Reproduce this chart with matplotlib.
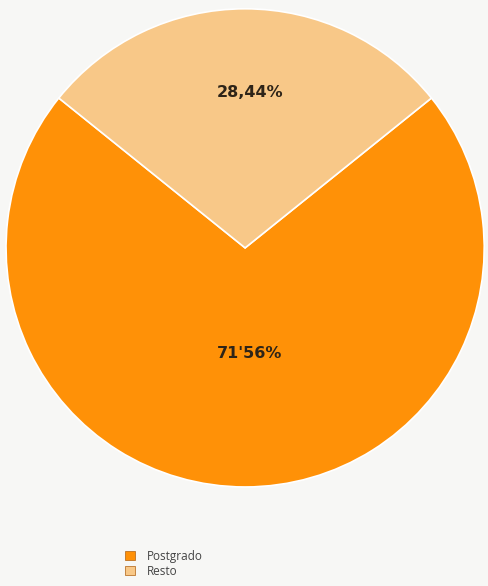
import matplotlib
matplotlib.use("Agg")
import matplotlib.pyplot as plt
import numpy as np

categories = ["Postgrado", "Resto"]
values = [71.56, 28.44]
pct_labels = ["71'56%", "28,44%"]
colors = ["#FF9107", "#F8C888"]

fig = plt.figure(figsize=(4.88, 5.86), dpi=100, facecolor="#F7F7F5")
ax = fig.add_axes([0.0123, 0.169, 0.98, 0.816])
ax.set_facecolor("#F7F7F5")

# Resto centred on top
start = 90 + values[1] / sum(values) * 180
wedges, _ = ax.pie(values, colors=colors, startangle=start, counterclock=True,
                   wedgeprops=dict(edgecolor="white", linewidth=1.2), radius=1.0)
ax.set_xlim(-1, 1)
ax.set_ylim(-1, 1)
ax.set_aspect("equal")

dists = [0.44, 0.65]
for w, lab, d in zip(wedges, pct_labels, dists):
    ang = np.deg2rad((w.theta1 + w.theta2) / 2)
    ax.text(d * np.cos(ang) + 0.02, d * np.sin(ang), lab, ha="center", va="center",
            fontsize=11.5, fontweight="bold", color="#2E2418", family="DejaVu Sans")

leg = fig.legend(wedges, categories, loc="center left", bbox_to_anchor=(0.235, 0.038),
                 frameon=False, handlelength=0.85, handleheight=0.85,
                 handletextpad=1.0, labelspacing=0.15, prop=dict(family="Open Sans", size=8.5))
for t in leg.get_texts():
    t.set_color("#444444")
for h in leg.legend_handles:
    h.set_edgecolor("#B06010")
    h.set_linewidth(0.5)

fig.savefig("out.png", dpi=100, facecolor=fig.get_facecolor())
